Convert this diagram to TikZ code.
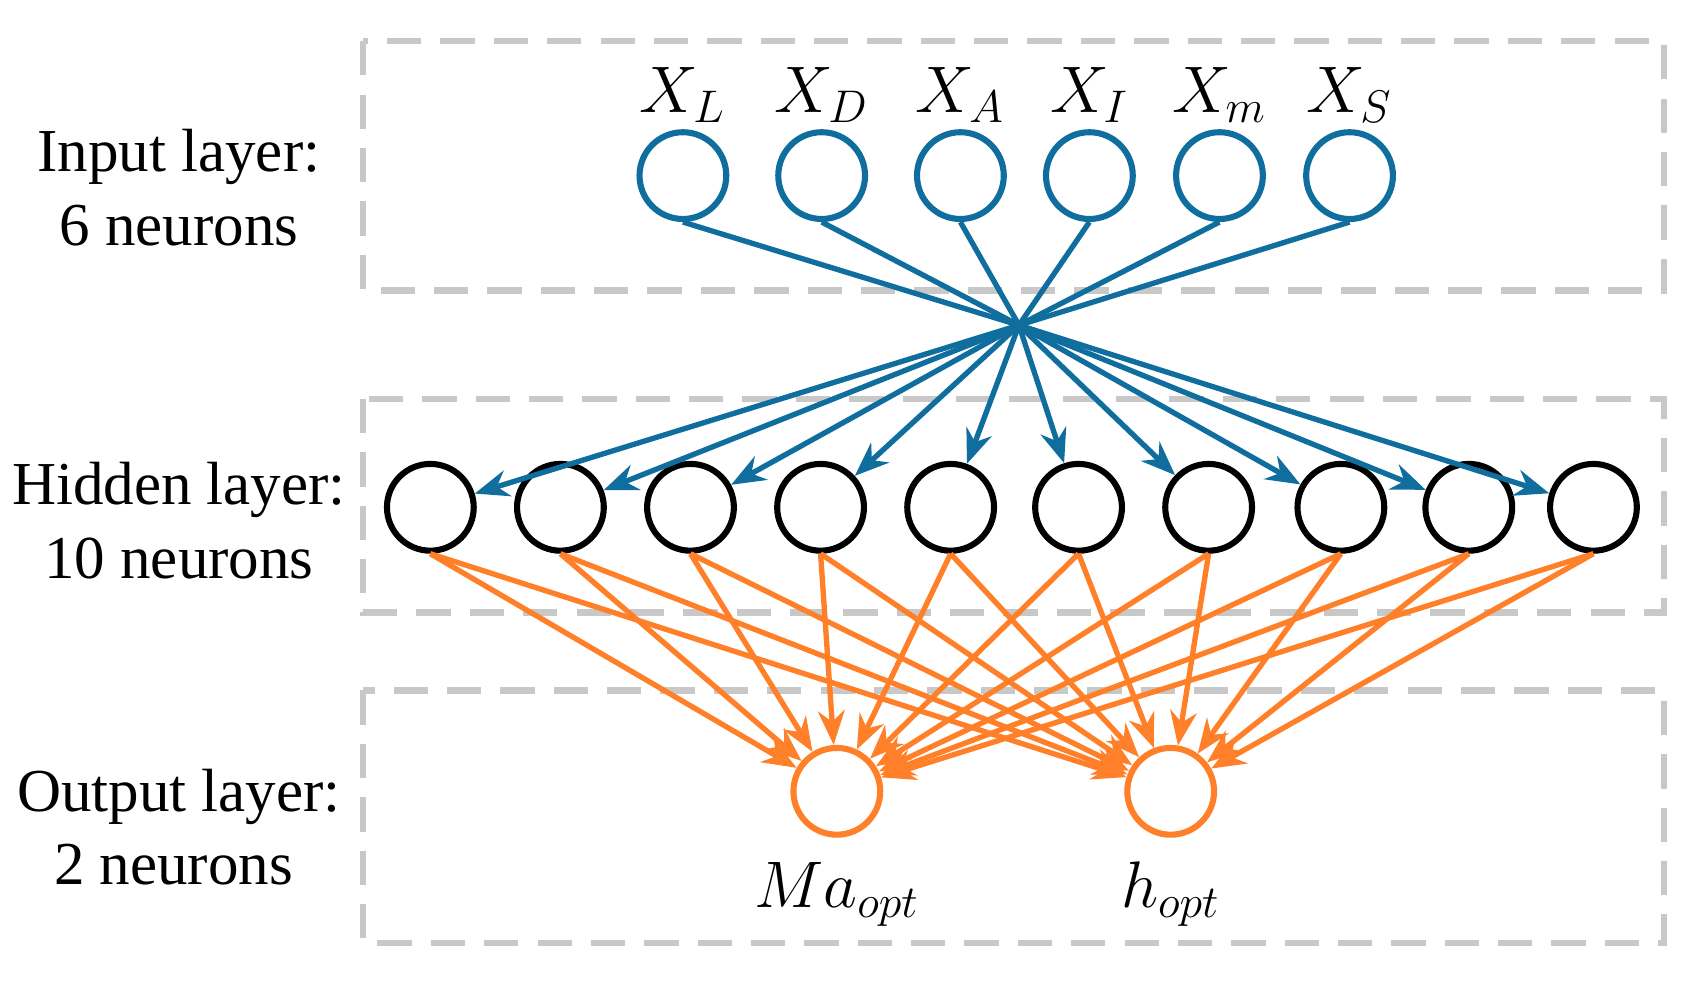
\documentclass[tikz,border=0pt]{standalone}
\usepackage{fontspec}
\setmainfont{Liberation Serif}
\usetikzlibrary{arrows.meta}
\definecolor{bl}{RGB}{16,110,158}
\definecolor{og}{RGB}{255,128,40}
\definecolor{gr}{RGB}{200,200,200}
\begin{document}
\begin{tikzpicture}[x=0.01cm,y=-0.01cm,
  box/.style={draw=gr,line width=1.6pt,dash pattern=on 9pt off 5pt},
  neu/.style={circle,minimum size=0.8cm,inner sep=0pt,line width=1.6pt},
  lab/.style={font=\fontsize{16}{19}\selectfont,align=center},
  mlab/.style={font=\fontsize{17}{20}\selectfont},
  ba/.style={draw=bl,line width=1.4pt,-{Stealth[length=9pt,width=7pt]}},
  oa/.style={draw=og,line width=1.4pt,-{Stealth[length=9pt,width=7pt]}}]
\useasboundingbox (0,0) rectangle (1560,906);
\draw[box] (335,38) rectangle (1535,268);
\draw[box] (335,368) rectangle (1535,565);
\draw[box] (335,637) rectangle (1535,870);
\node[lab] (li1) at (165,145) {Input layer:};
\node[lab] (li2) at (165,208) {6 neurons};
\node[lab] (lh1) at (165,452) {Hidden layer:};
\node[lab] (lh2) at (165,515) {10 neurons};
\node[lab] (lo1) at (165,735) {Output layer:};
\node[lab] (lo2) at (160,798) {2 neurons};
\foreach \x/\n/\s in {630/1/L,758/2/D,886/3/A,1005/4/I,1125/5/m,1245/6/S}{
  \node[neu,draw=bl] (i\n) at (\x,162) {};
  \node[mlab] (t\n) at (\x,88) {$X_{\s}$};
}
\coordinate (hub) at (940,300);
\foreach \x [count=\n] in {397,517,637,757,877,995,1115,1237,1355,1470}{
  \node[neu,draw=black] (h\n) at (\x,468) {};
}
\node[neu,draw=og] (o1) at (772,730) {};
\node[neu,draw=og] (o2) at (1080,730) {};
\node[mlab] (to1) at (772,825) {$Ma_{opt}$};
\node[mlab] (to2) at (1080,825) {$h_{opt}$};
\foreach \n in {1,...,6}{\draw[bl,line width=1.4pt] (i\n.south) -- (hub);}
\foreach \n in {1,...,10}{\draw[ba] (hub) -- (h\n);}
\foreach \n in {1,...,10}{\draw[oa] (h\n.south) -- (o1); \draw[oa] (h\n.south) -- (o2);}
\end{tikzpicture}
\end{document}
